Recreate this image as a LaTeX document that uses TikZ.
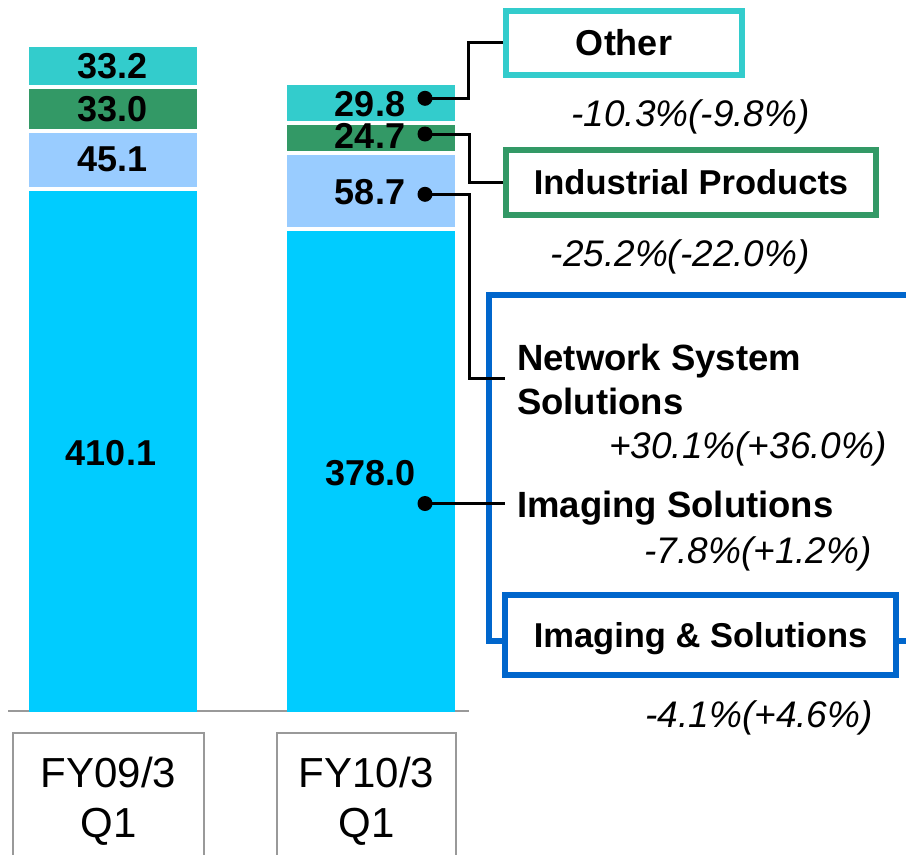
\documentclass[tikz,border=0pt]{standalone}
\usepackage{fontspec}
\setmainfont{Liberation Sans}
\definecolor{barcyan}{HTML}{00CCFF}
\definecolor{barlight}{HTML}{99CCFF}
\definecolor{bargreen}{HTML}{339966}
\definecolor{barteal}{HTML}{33CCCC}
\definecolor{isblue}{HTML}{0066CC}
\definecolor{axisgray}{HTML}{999999}
\begin{document}
\begin{tikzpicture}[x=1pt,y=-1pt,
  val/.style={font=\fontsize{36}{40}\selectfont\bfseries, anchor=base, inner sep=0pt},
  lbl/.style={font=\fontsize{36.5}{44}\selectfont\bfseries, anchor=base west, inner sep=0pt},
  pct/.style={font=\fontsize{37}{40}\selectfont\itshape, anchor=base east, inner sep=0pt},
  cat/.style={font=\fontsize{42}{50}\selectfont, anchor=base, inner sep=0pt},
  segbox/.style={draw, line width=6pt, fill=white, inner sep=0pt, text height=25pt, text depth=0pt, font=\fontsize{34.5}{40}\selectfont\bfseries},
  conn/.style={line width=3pt, line join=miter},
  dotc/.style={circle, fill=black, minimum size=15pt, inner sep=0pt},
  catline/.style={draw=axisgray, line width=1.8pt}]
\useasboundingbox (0,0) rectangle (906,855);
% axis
\draw[axisgray, line width=1.5pt] (8,711) -- (469,711);
% left bar
\fill[barteal] (29,47) rectangle (197,85);
\fill[bargreen] (29,89) rectangle (197,129);
\fill[barlight] (29,133) rectangle (197,187);
\fill[barcyan] (29,191) rectangle (197,712);
% right bar
\fill[barteal] (287,85) rectangle (455,120.5);
\fill[bargreen] (287,125) rectangle (455,151);
\fill[barlight] (287,155) rectangle (455,227);
\fill[barcyan] (287,231) rectangle (455,712);
% values
\node[val] (a1) at (112.5,78.3) {33.2};
\node[val] (a2) at (112.5,121.7) {33.0};
\node[val] (a3) at (112.5,171.7) {45.1};
\node[val] (a4) at (111,465) {410.1};
\node[val] (b1) at (370,116.7) {29.8};
\node[val] (b2) at (370,148.3) {24.7};
\node[val] (b3) at (370,204) {58.7};
\node[val] (b4) at (370.5,485) {378.0};
% dots
\node[dotc] (d1) at (425,98.3) {};
\node[dotc] (d2) at (425,134) {};
\node[dotc] (d3) at (425,194.3) {};
\node[dotc] (d4) at (425,503.5) {};
% category boxes
\draw[catline] (13,733) rectangle (204,862);
\draw[catline] (277,733) rectangle (456,862);
\node[cat] (c1) at (108.5,787) {FY09/3};
\node[cat] (c2) at (108.5,837) {Q1};
\node[cat] (c3) at (366.5,787) {FY10/3};
\node[cat] (c4) at (366.5,837) {Q1};
% segment boxes
\node[segbox, draw=barteal, font=\fontsize{36}{40}\selectfont\bfseries, minimum width=236pt, minimum height=64pt] (oth) at (624,42.5) {Other};
\node[segbox, draw=bargreen, minimum width=370pt, minimum height=65pt] (ind) at (691,182) {Industrial Products};
% blue bracket
\coordinate (bt) at (489,294.7);
\coordinate (btr) at (910,294.7);
\coordinate (bb) at (489,641);
\coordinate (brr) at (910,641);
\draw[isblue, line width=6pt, line join=miter] (btr) -- (bt) -- (bb) -- (505,641);
\node[segbox, draw=isblue, minimum width=391pt, minimum height=80pt] (ias) at (700.5,635) {Imaging \& Solutions};
\draw[isblue, line width=6pt] (ias.east |- brr) -- (brr);
% labels
\node[lbl] (nss1) at (517,370) {Network System};
\node[lbl] (nss2) at (517,414) {Solutions};
\node[lbl] (imgs) at (517,517) {Imaging Solutions};
\coordinate (nssin) at (505,378);
\coordinate (imgin) at (505,503.5);
% percentages
\node[pct] (p1) at (810,126.7) {-10.3\%(-9.8\%)};
\node[pct] (p2) at (810,266.7) {-25.2\%(-22.0\%)};
\node[pct] (p3) at (887,458) {+30.1\%(+36.0\%)};
\node[pct] (p4) at (872,563) {-7.8\%(+1.2\%)};
\node[pct] (p5) at (873,727) {-4.1\%(+4.6\%)};
% connectors
\draw[conn] (d1.center) -- (468,98.3) |- (oth.west);
\draw[conn] (d2.center) -- (469,134) |- (ind.west);
\draw[conn] (d3.center) -- (469,194.3) |- (nssin);
\draw[conn] (d4.center) -- (imgin);
\end{tikzpicture}
\end{document}
